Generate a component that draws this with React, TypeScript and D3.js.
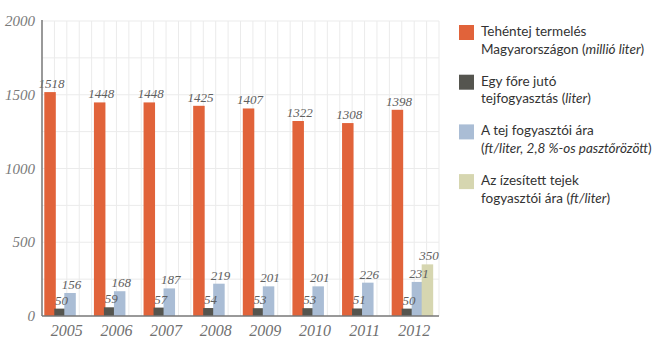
import * as d3 from "d3";

const years = ["2005", "2006", "2007", "2008", "2009", "2010", "2011", "2012"];
const production = [1518, 1448, 1448, 1425, 1407, 1322, 1308, 1398];
const perCapita = [50, 59, 57, 54, 53, 53, 51, 50];
const milkPrice = [156, 168, 187, 219, 201, 201, 226, 231];
const flavouredPrice: Array<number | null> = [null, null, null, null, null, null, null, 350];
const yTicks = [0, 500, 1000, 1500, 2000];

const colors = ["#e1633a", "#55554f", "#aabdd5", "#d6d6b0"];

const legendItems: Array<Array<Array<{ t: string; i?: boolean }>>> = [
  [[{ t: "Tehéntej termelés" }], [{ t: "Magyarországon (" }, { t: "millió liter", i: true }, { t: ")" }]],
  [[{ t: "Egy főre jutó" }], [{ t: "tejfogyasztás (" }, { t: "liter", i: true }, { t: ")" }]],
  [[{ t: "A tej fogyasztói ára" }], [{ t: "(" }, { t: "ft/liter, 2,8 %-os pasztőrözött", i: true }, { t: ")" }]],
  [[{ t: "Az ízesített tejek" }], [{ t: "fogyasztói ára (" }, { t: "ft/liter", i: true }, { t: ")" }]],
];

export default function App() {
  const width = 666;
  const height = 350;
  const left = 42;
  const right = 439;
  const top = 21;
  const bottom = 316;

  const x = d3.scaleBand<string>().domain(years).range([left, right]);
  const y = d3.scaleLinear().domain([0, 2000]).range([bottom, top]);
  const step = 10;
  const barW = 11.5;
  const series = [production, perCapita, milkPrice, flavouredPrice];
  const vGrid = d3.range(1, years.length * 4 + 1).map((i) => left + (i * x.bandwidth()) / 4);
  const hGrid = d3.range(250, 2001, 250);
  const numFont = "'Liberation Serif', serif";

  // bars first, labels after so neighbouring bars never cover them
  const marks = series.flatMap((vals, si) =>
    vals.flatMap((v, gi) => (v == null ? [] : [{ si, gi, v, bx: (x(years[gi]) ?? 0) + 2.3 + si * step }]))
  );

  return (
    <svg width={width} height={height} style={{ position: "absolute", left: 0, top: 0, background: "#fff" }}>
      {vGrid.map((gx) => (
        <line key={gx} x1={gx} x2={gx} y1={top} y2={bottom} stroke="#ebebeb" />
      ))}
      {hGrid.map((v) => (
        <line key={v} x1={left} x2={right} y1={y(v)} y2={y(v)} stroke="#ebebeb" />
      ))}
      {yTicks.map((v) => (
        <text key={v} x={35} y={y(v) + 5} textAnchor="end" fontSize={15} fontStyle="italic" fill="#7a7a7a" fontFamily={numFont}>{v}</text>
      ))}
      {marks.map((m) => (
        <rect key={`r${m.si}-${m.gi}`} x={m.bx} y={y(m.v)} width={barW} height={bottom - y(m.v)} fill={colors[m.si]} />
      ))}
      {marks.map((m) => (
        <text key={`t${m.si}-${m.gi}`} x={m.bx + barW / 2 + 1.5} y={y(m.v) - 4} textAnchor="middle" fontSize={13} fontStyle="italic" fill="#606060" fontFamily={numFont}>{m.v}</text>
      ))}
      <line x1={left} x2={left} y1={top - 1} y2={bottom} stroke="#777" strokeWidth={1.5} />
      <line x1={left} x2={right} y1={bottom} y2={bottom} stroke="#777" strokeWidth={1.5} />
      {years.map((yr) => (
        <text key={yr} x={(x(yr) ?? 0) + x.bandwidth() / 2} y={336} textAnchor="middle" fontSize={16} fontStyle="italic" fill="#707070" fontFamily={numFont}>{yr}</text>
      ))}
      {legendItems.map((item, i) => (
        <g key={i} transform={`translate(459, ${25 + i * 49.7})`}>
          <rect width={15} height={15} fill={colors[i]} />
          {item.map((line, li) => (
            <text key={li} x={22} y={11 + li * 17.5} fontSize={13.5} fill="#333" fontFamily="Lato, sans-serif">
              {line.map((s, k) => (
                <tspan key={k} fontStyle={s.i ? "italic" : "normal"}>{s.t}</tspan>
              ))}
            </text>
          ))}
        </g>
      ))}
    </svg>
  );
}
